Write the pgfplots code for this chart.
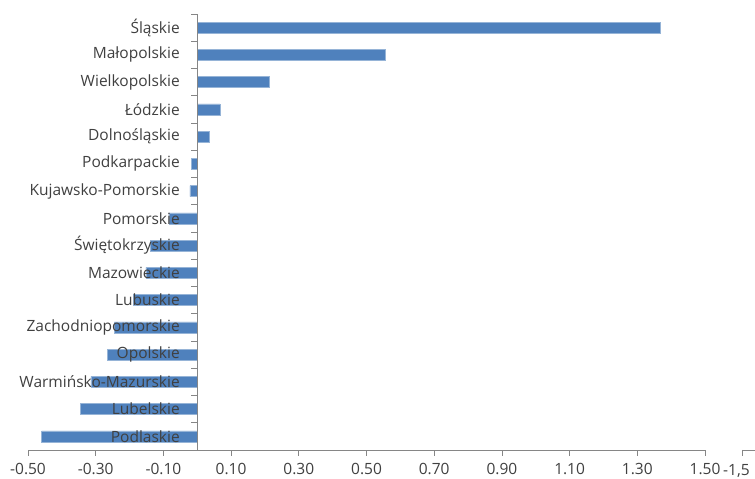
\documentclass[border=0pt]{standalone}
\usepackage{pgfplots}
\pgfplotsset{compat=1.18}
\usepackage{fontspec}
\setmainfont{Open Sans}
\definecolor{barblue}{RGB}{79,129,189}
\definecolor{baredge}{RGB}{150,180,215}
\definecolor{axisgray}{RGB}{134,134,134}
\definecolor{txt}{RGB}{64,64,64}
\newcommand\lbl{\fontsize{15.5bp}{18bp}\selectfont\color{txt}}

\begin{document}
\begin{tikzpicture}[x=1bp,y=1bp]
\begin{axis}[
  at={(28bp,29bp)}, anchor=south west,
  scale only axis, width=677bp, height=436bp,
  xmin=-0.5, xmax=1.5, ymin=-0.5, ymax=15.5,
  axis x line=bottom, axis y line=center,
  axis line style={-, axisgray, line width=0.8bp},
  axis on top,
  tick style={axisgray, line width=0.8bp},
  tick align=outside,
  major tick length=6bp,
  minor tick length=6bp,
  xtick={-0.5,-0.3,-0.1,0.1,0.3,0.5,0.7,0.9,1.1,1.3,1.5},
  xticklabels={-0.50,-0.30,-0.10,0.10,0.30,0.50,0.70,0.90,1.10,1.30,1.50},
  ytick={0,...,15},
  yticklabels={Podlaskie,Lubelskie,Warmińsko-Mazurskie,Opolskie,Zachodniopomorskie,Lubuskie,Mazowieckie,Świętokrzyskie,Pomorskie,Kujawsko-Pomorskie,Podkarpackie,Dolnośląskie,Łódzkie,Wielkopolskie,Małopolskie,Śląskie},
  minor ytick={-0.5,0.5,...,15.5},
  major y tick style={draw=none},
  minor y tick style={draw=axisgray, line width=0.8bp},
  tick label style={font=\lbl},
  xticklabel style={anchor=base, yshift=-19bp},
  yticklabel style={anchor=east, xshift=-8bp},
  /pgf/number format/assume math mode=true,
  clip=false,
]
\addplot[xbar, bar width=0.4, fill=barblue, draw=baredge, line width=0.6bp]
coordinates {
  (-0.460,0) (-0.346,1) (-0.314,2) (-0.266,3) (-0.245,4) (-0.189,5)
  (-0.152,6) (-0.138,7) (-0.084,8) (-0.022,9) (-0.018,10) (0.036,11)
  (0.067,12) (0.213,13) (0.555,14) (1.368,15)
};
\end{axis}
% stray fragment of a second axis at the right edge
\draw[axisgray, line width=0.8bp] (742,29) -- (760,29) (742,29) -- (742,23);
\node[font=\lbl, anchor=base west, inner sep=0pt] at (723,3.5) {-1,5};
\pgfresetboundingbox
\useasboundingbox (0,0) rectangle (755,479);
\end{tikzpicture}
\end{document}
